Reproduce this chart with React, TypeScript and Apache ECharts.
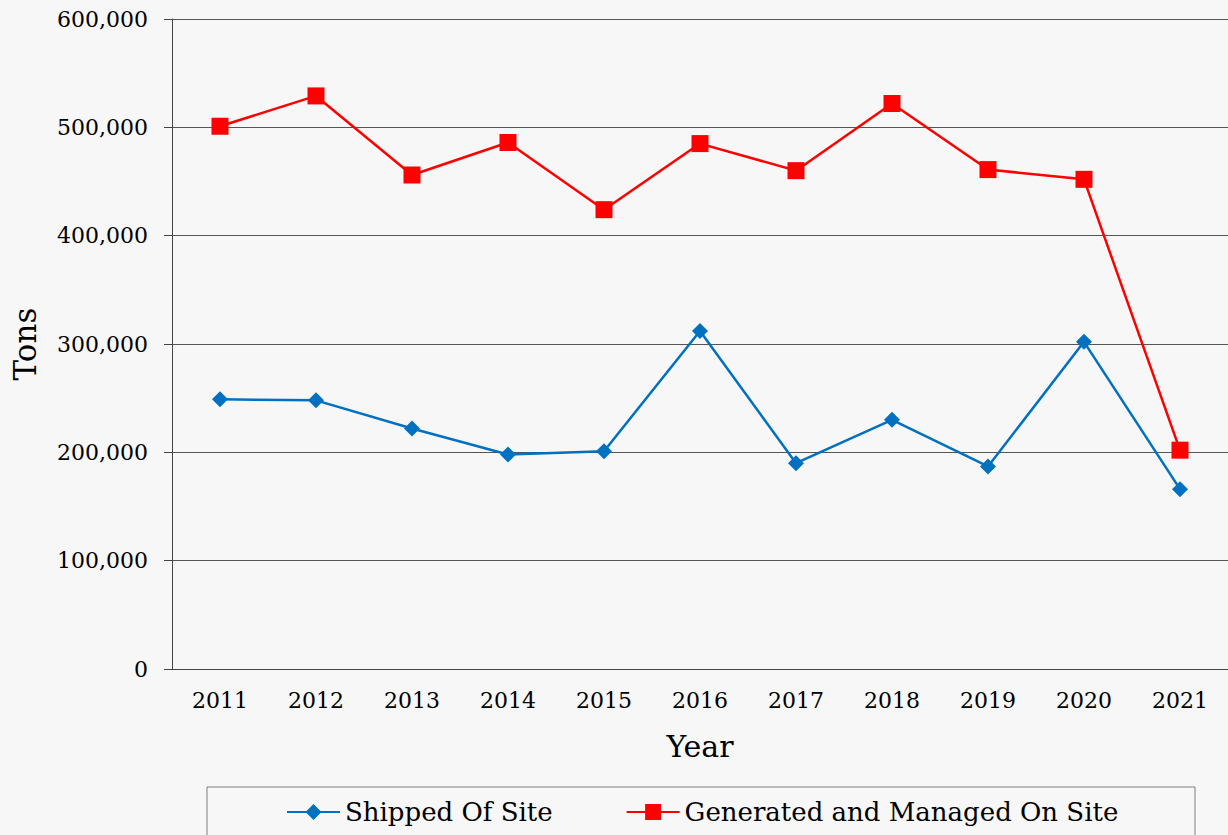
import React, { useEffect, useRef } from "react";
import * as echarts from "echarts";

const years = ["2011", "2012", "2013", "2014", "2015", "2016", "2017", "2018", "2019", "2020", "2021"];
const shippedOffSite = [249000, 248000, 222000, 198000, 201000, 312000, 190000, 230000, 187000, 302000, 166000];
const generatedOnSite = [501000, 529000, 456000, 486000, 424000, 485000, 460000, 522000, 461000, 452000, 202000];
const seriesNames = ["Shipped Of Site", "Generated and Managed On Site"];

const FONT = "DejaVu Serif";

export default function App() {
  const ref = useRef<HTMLDivElement>(null);
  useEffect(() => {
    if (!ref.current) return;
    const chart = echarts.init(ref.current, null, { renderer: "svg" });
    chart.setOption({
      animation: false,
      backgroundColor: "#f7f7f7",
      textStyle: { fontFamily: FONT },
      grid: { left: 172, top: 19, width: 1056, height: 650 },
      graphic: [
        {
          type: "rect",
          shape: { x: 207, y: 787, width: 988, height: 70 },
          style: { fill: "none", stroke: "#7f7f7f", lineWidth: 1 },
          z: -1,
        },
      ],
      legend: {
        left: 281,
        top: 794,
        itemWidth: 53,
        itemHeight: 20,
        itemGap: 73,
        textStyle: { fontFamily: FONT, fontSize: 26, color: "#000" },
        data: seriesNames,
      },
      xAxis: {
        type: "category",
        data: years,
        boundaryGap: true,
        name: "Year",
        nameLocation: "middle",
        nameGap: 62,
        nameTextStyle: { fontFamily: FONT, fontSize: 30, color: "#000" },
        axisLine: { lineStyle: { color: "#444", width: 1 } },
        axisTick: { alignWithLabel: true, length: 6, lineStyle: { color: "#444" } },
        axisLabel: { fontFamily: FONT, fontSize: 22, color: "#000", margin: 20 },
        splitLine: { show: false },
      },
      yAxis: {
        type: "value",
        min: 0,
        max: 600000,
        interval: 100000,
        name: "Tons",
        nameLocation: "middle",
        nameRotate: 90,
        nameGap: 132,
        nameTextStyle: { fontFamily: FONT, fontSize: 31, color: "#000" },
        axisLine: { show: true, lineStyle: { color: "#444", width: 1 } },
        axisTick: { show: true, length: 8, lineStyle: { color: "#444" } },
        axisLabel: {
          fontFamily: FONT,
          fontSize: 22,
          color: "#000",
          margin: 24,
          formatter: (v: number) => v.toLocaleString("en-US"),
        },
        splitLine: { show: true, lineStyle: { color: "#555", width: 1 } },
      },
      series: [
        {
          name: seriesNames[0],
          type: "line",
          data: shippedOffSite,
          symbol: "diamond",
          symbolSize: 16,
          itemStyle: { color: "#0070c0" },
          lineStyle: { color: "#0070c0", width: 2.5 },
        },
        {
          name: seriesNames[1],
          type: "line",
          data: generatedOnSite,
          symbol: "rect",
          symbolSize: 17,
          itemStyle: { color: "#ff0000" },
          lineStyle: { color: "#ff0000", width: 2.5 },
        },
      ],
    });
    return () => chart.dispose();
  }, []);
  return (
    <div
      ref={ref}
      style={{ position: "fixed", left: 0, top: 0, width: 1228, height: 835 }}
    />
  );
}
